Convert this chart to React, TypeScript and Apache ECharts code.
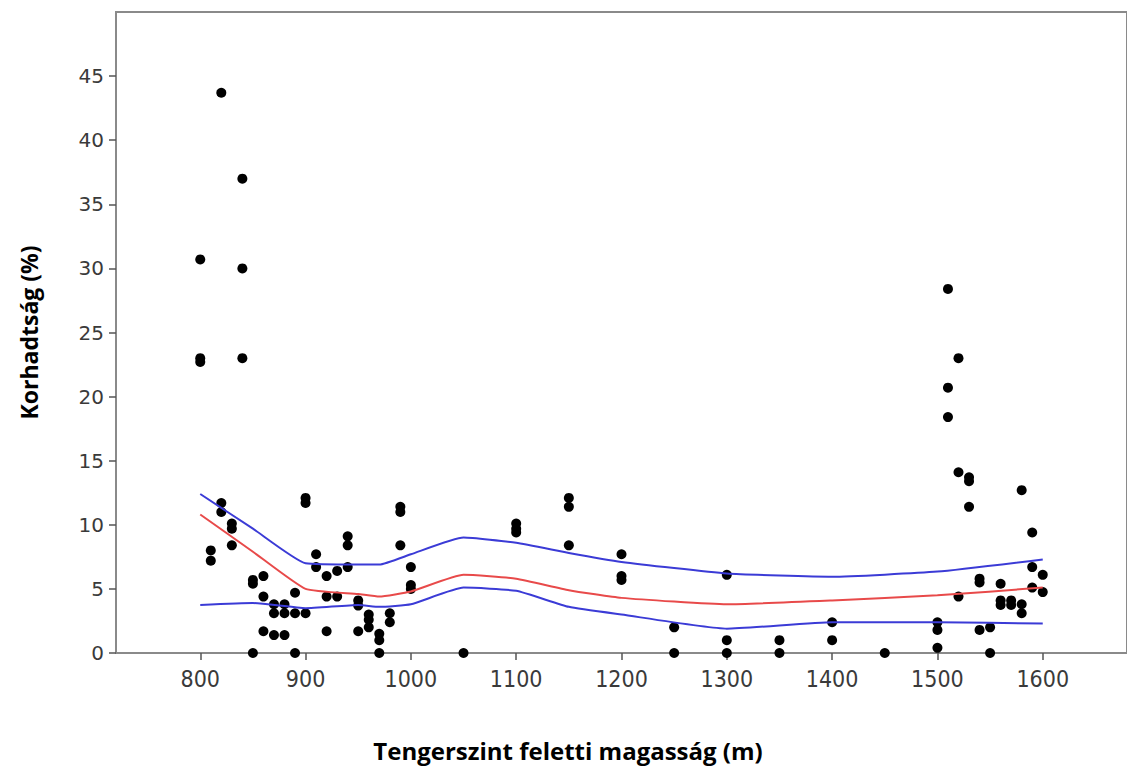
import React, { useEffect, useRef } from "react";
import * as echarts from "echarts";

// Scatter observations: altitude (m) and decay (%)
const obsAltitude = [
  800, 800, 800,
  810, 810,
  820, 820, 820,
  830, 830, 830,
  840, 840, 840,
  850, 850, 850,
  860, 860, 860,
  870, 870, 870,
  880, 880, 880,
  890, 890, 890,
  900, 900, 900,
  910, 910,
  920, 920, 920,
  930, 930,
  940, 940, 940,
  950, 950, 950,
  960, 960, 960,
  970, 970, 970,
  980, 980,
  990, 990, 990,
  1000, 1000, 1000,
  1050,
  1100, 1100, 1100,
  1150, 1150, 1150,
  1200, 1200, 1200,
  1250, 1250,
  1300, 1300, 1300,
  1350, 1350,
  1400, 1400,
  1450,
  1500, 1500, 1500,
  1510, 1510, 1510,
  1520, 1520, 1520,
  1530, 1530, 1530,
  1540, 1540, 1540,
  1550, 1550,
  1560, 1560, 1560,
  1570, 1570,
  1580, 1580, 1580,
  1590, 1590, 1590,
  1600, 1600,
];
const obsDecay = [
  30.7, 23.0, 22.7,
  8.0, 7.2,
  43.7, 11.7, 11.0,
  10.1, 9.7, 8.4,
  37.0, 30.0, 23.0,
  5.7, 5.4, 0,
  6.0, 4.4, 1.7,
  3.8, 3.1, 1.4,
  3.8, 3.1, 1.4,
  4.7, 3.1, 0,
  12.1, 11.7, 3.1,
  7.7, 6.7,
  6.0, 4.4, 1.7,
  6.4, 4.4,
  9.1, 8.4, 6.7,
  4.1, 3.7, 1.7,
  3.0, 2.6, 2.0,
  1.5, 1.0, 0,
  3.1, 2.4,
  11.4, 11.0, 8.4,
  6.7, 5.3, 5.0,
  0,
  10.1, 9.7, 9.4,
  12.1, 11.4, 8.4,
  7.7, 6.0, 5.7,
  2.0, 0,
  6.1, 1.0, 0,
  1.0, 0,
  2.4, 1.0,
  0,
  2.4, 1.8, 0.4,
  28.4, 20.7, 18.4,
  23.0, 14.1, 4.4,
  13.7, 13.4, 11.4,
  5.8, 5.5, 1.8,
  2.0, 0,
  5.4, 4.1, 3.75,
  4.1, 3.75,
  12.7, 3.8, 3.1,
  9.4, 6.7, 5.1,
  6.1, 4.75,
];

// Fit line and confidence band
const fitAltitude = [800, 850, 900, 950, 970, 1000, 1050, 1100, 1150, 1200, 1300, 1400, 1500, 1600];
const fitMean = [10.8, 7.9, 5.0, 4.6, 4.4, 4.8, 6.1, 5.8, 4.9, 4.3, 3.8, 4.1, 4.5, 5.1];
const fitUpper = [12.4, 9.7, 7.0, 6.9, 6.9, 7.7, 9.0, 8.6, 7.8, 7.1, 6.2, 5.95, 6.35, 7.3];
const fitLower = [3.75, 3.9, 3.5, 3.75, 3.6, 3.8, 5.1, 4.85, 3.6, 3.0, 1.9, 2.4, 2.4, 2.3];

const xTicks = [800, 900, 1000, 1100, 1200, 1300, 1400, 1500, 1600];
const yTicks = [0, 5, 10, 15, 20, 25, 30, 35, 40, 45];

const xTitle = "Tengerszint feletti magasság (m)";
const yTitle = "Korhadtság (%)";

export default function App() {
  const ref = useRef<HTMLDivElement>(null);
  useEffect(() => {
    if (!ref.current) return;
    const chart = echarts.init(ref.current, undefined, { renderer: "svg" });
    const pts = obsAltitude.map((a, i) => [a, obsDecay[i]]);
    const line = (vals: number[]) => fitAltitude.map((a, i) => [a, vals[i]]);
    const axisGray = "#8a8a8a";
    const titleFont = "'Open Sans', 'Noto Sans', sans-serif";
    chart.setOption({
      animation: false,
      backgroundColor: "#ffffff",
      grid: {
        left: 116,
        top: 12,
        bottom: 117,
        right: -6,
        show: true,
        borderColor: axisGray,
        borderWidth: 2,
        backgroundColor: "transparent",
      },
      xAxis: {
        type: "value",
        min: 720,
        max: 1680,
        axisLine: { show: true, lineStyle: { color: axisGray, width: 2 } },
        axisTick: {
          show: true,
          customValues: xTicks,
          length: 7,
          lineStyle: { color: "#555555", width: 1.5 },
        },
        axisLabel: {
          customValues: xTicks,
          formatter: (v: number) => String(v),
          margin: 14,
          color: "#3a3a3a",
          fontFamily: "'DejaVu Sans Condensed', 'Liberation Sans Narrow', sans-serif",
          fontSize: 23,
        },
        splitLine: { show: false },
      },
      yAxis: {
        type: "value",
        min: 0,
        max: 50,
        name: yTitle,
        nameLocation: "middle",
        nameGap: 76,
        nameTextStyle: {
          fontFamily: titleFont,
          fontWeight: "bold",
          fontSize: 23,
          color: "#000000",
        },
        axisLine: { show: true, lineStyle: { color: axisGray, width: 2 } },
        axisTick: {
          show: true,
          customValues: yTicks,
          length: 7,
          lineStyle: { color: "#555555", width: 1.5 },
        },
        axisLabel: {
          customValues: yTicks,
          formatter: (v: number) => String(v),
          margin: 12,
          color: "#3a3a3a",
          fontFamily: "'DejaVu Sans', Verdana, sans-serif",
          fontSize: 20,
        },
        splitLine: { show: false },
      },
      graphic: [
        {
          type: "text",
          x: 568,
          y: 750,
          style: {
            text: xTitle,
            align: "center",
            verticalAlign: "middle",
            fontFamily: titleFont,
            fontWeight: "bold",
            fontSize: 24,
            fill: "#000000",
          },
        },
      ],
      series: [
        {
          type: "scatter",
          data: pts,
          symbol: "circle",
          symbolSize: 10,
          itemStyle: { color: "#000000", opacity: 1 },
          z: 2,
        },
        {
          type: "line",
          data: line(fitUpper),
          symbol: "none",
          smooth: 0.15,
          lineStyle: { color: "#3b3bd6", width: 2 },
          z: 3,
        },
        {
          type: "line",
          data: line(fitMean),
          symbol: "none",
          smooth: 0.15,
          lineStyle: { color: "#e84a4a", width: 2 },
          z: 3,
        },
        {
          type: "line",
          data: line(fitLower),
          symbol: "none",
          smooth: 0.15,
          lineStyle: { color: "#3b3bd6", width: 2 },
          z: 3,
        },
      ],
    });
    return () => chart.dispose();
  }, []);
  return <div ref={ref} style={{ width: 1127, height: 770, position: "absolute", left: 0, top: 0 }} />;
}
